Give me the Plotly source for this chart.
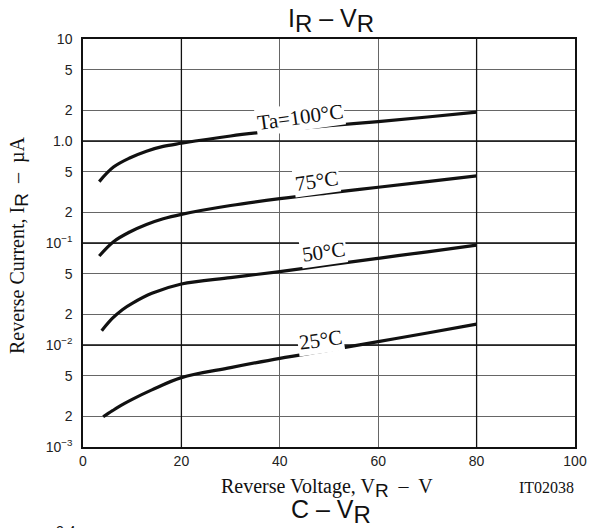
import numpy as np
import plotly.graph_objects as go

# ---- data ----
vr_100 = [3.3, 6.2, 9.6, 12.9, 16.3, 20, 30, 40, 50, 60, 70, 80]
ir_100 = [0.40, 0.555, 0.685, 0.795, 0.885, 0.95, 1.12, 1.27, 1.41, 1.55, 1.72, 1.92]

vr_75 = [3.3, 6.2, 9.6, 12.9, 16.3, 20, 30, 40, 50, 60, 70, 80]
ir_75 = [0.0746, 0.103, 0.129, 0.152, 0.173, 0.191, 0.233, 0.272, 0.310, 0.352, 0.400, 0.455]

vr_50 = [3.8, 6, 8, 10, 14, 20, 30, 40, 50, 60, 70, 80]
ir_50 = [0.0138, 0.0183, 0.0222, 0.0256, 0.0321, 0.0396, 0.0458, 0.0524, 0.0610, 0.0708, 0.0820, 0.0955]

vr_25 = [4.1, 6, 8, 10, 14, 20, 30, 40, 50, 60, 70, 80]
ir_25 = [0.00198, 0.00227, 0.0026, 0.00293, 0.00363, 0.00479, 0.0060, 0.0074, 0.0089, 0.0108, 0.0131, 0.0160]

curve_labels = ["Ta=100°C", "75°C", "50°C", "25°C"]
label_x = [44.2, 47.5, 48.8, 48.2]
label_y = [1.73, 0.408, 0.0811, 0.0112]

x_ticks = [0, 20, 40, 60, 80, 100]
y_ticks = [1e-3, 2e-3, 5e-3, 1e-2, 2e-2, 5e-2, 1e-1, 2e-1, 5e-1, 1, 2, 5, 10]
y_ticktext = ["10<sup>−3</sup>", "2", "5", "10<sup>−2</sup>", "2", "5",
              "10<sup>−1</sup>", "2", "5", "1.0", "2", "5", "10"]
dark_x = [20, 80]
dark_y = [1, 0.1, 0.01]

SERIF = "Liberation Serif, Times New Roman, serif"
SANS = "Liberation Sans, Arial, sans-serif"

W, H = 598, 528
L, R, T, B = 83, 23, 39, 81
pw, ph = W - L - R, H - T - B


def px(xp):
    return (xp - L) / pw


def py(yp):
    return (H - B - yp) / ph


def big_sub(letter, size, family):
    return ("<sub><span style='font-size:%dpx;font-family:%s'>%s</span></sub>"
            % (size, family, letter))


fig = go.Figure()

# darker grid lines
for xv in dark_x:
    fig.add_trace(go.Scatter(x=[xv, xv], y=[y_ticks[0], y_ticks[-1]], mode="lines",
                             line=dict(color="#111", width=1.3), hoverinfo="skip",
                             showlegend=False))
for yv in dark_y:
    fig.add_trace(go.Scatter(x=[x_ticks[0], x_ticks[-1]], y=[yv, yv], mode="lines",
                             line=dict(color="#111", width=1.3), hoverinfo="skip",
                             showlegend=False))

for xs, ys in [(vr_100, ir_100), (vr_75, ir_75), (vr_50, ir_50), (vr_25, ir_25)]:
    fig.add_trace(go.Scatter(x=xs, y=ys, mode="lines",
                             line=dict(color="#111", width=3.2, shape="spline", smoothing=1.0),
                             hoverinfo="skip", showlegend=False))

annotations = []
for txt, lx, ly in zip(curve_labels, label_x, label_y):
    annotations.append(dict(x=lx, y=np.log10(ly), xref="x", yref="y", text=txt,
                            showarrow=False, textangle=-8, bgcolor="white",
                            borderpad=1, font=dict(family=SERIF, size=21, color="#111")))

annotations += [
    dict(x=px(331), y=py(21), xref="paper", yref="paper", showarrow=False,
         text="I" + big_sub("R", 24, "Liberation Sans") + " – V" + big_sub("R", 24, "Liberation Sans"),
         xanchor="center", yanchor="middle",
         font=dict(family=SANS, size=25, color="#111")),
    dict(x=px(327), y=py(488), xref="paper", yref="paper", showarrow=False,
         text="Reverse Voltage, V" + big_sub("R", 19, "Liberation Sans") + "  –  V",
         xanchor="center", yanchor="middle", font=dict(family=SERIF, size=20, color="#111")),
    dict(x=px(576), y=py(487), xref="paper", yref="paper", showarrow=False,
         text="IT02038", xanchor="right", yanchor="middle",
         font=dict(family=SERIF, size=16, color="#111")),
    dict(x=px(19), y=py(246), xref="paper", yref="paper", showarrow=False,
         text="Reverse Current, I" + big_sub("R", 19, "Liberation Sans") + "  –  µA",
         textangle=-90, xanchor="center", yanchor="middle",
         font=dict(family=SERIF, size=20, color="#111")),
    dict(x=px(331), y=py(512), xref="paper", yref="paper", showarrow=False,
         text="C – V" + big_sub("R", 24, "Liberation Sans"), xanchor="center", yanchor="middle",
         font=dict(family=SANS, size=25, color="#111")),
    dict(x=px(66), y=py(521), xref="paper", yref="paper", showarrow=False,
         text="2.4", xanchor="center", yanchor="top",
         font=dict(family=SANS, size=14, color="#111")),
]

fig.update_layout(
    width=W, height=H,
    margin=dict(l=L, r=R, t=T, b=B, pad=0),
    paper_bgcolor="white", plot_bgcolor="white",
    showlegend=False,
    annotations=annotations,
    xaxis=dict(range=[0, 100], tickvals=x_ticks, ticks="", showgrid=True,
               gridcolor="#666", gridwidth=1, showline=True, linecolor="#111",
               linewidth=1.5, mirror=True, zeroline=False,
               tickfont=dict(family=SANS, size=14, color="#222")),
    yaxis=dict(type="log", range=[-3, 1], tickvals=y_ticks, ticktext=y_ticktext,
               ticks="", showgrid=True, gridcolor="#666", gridwidth=1,
               showline=True, linecolor="#111", linewidth=1.5, mirror=True,
               zeroline=False, ticklabelstandoff=6,
               tickfont=dict(family=SANS, size=14, color="#222")),
)

fig.write_html("out.html")
